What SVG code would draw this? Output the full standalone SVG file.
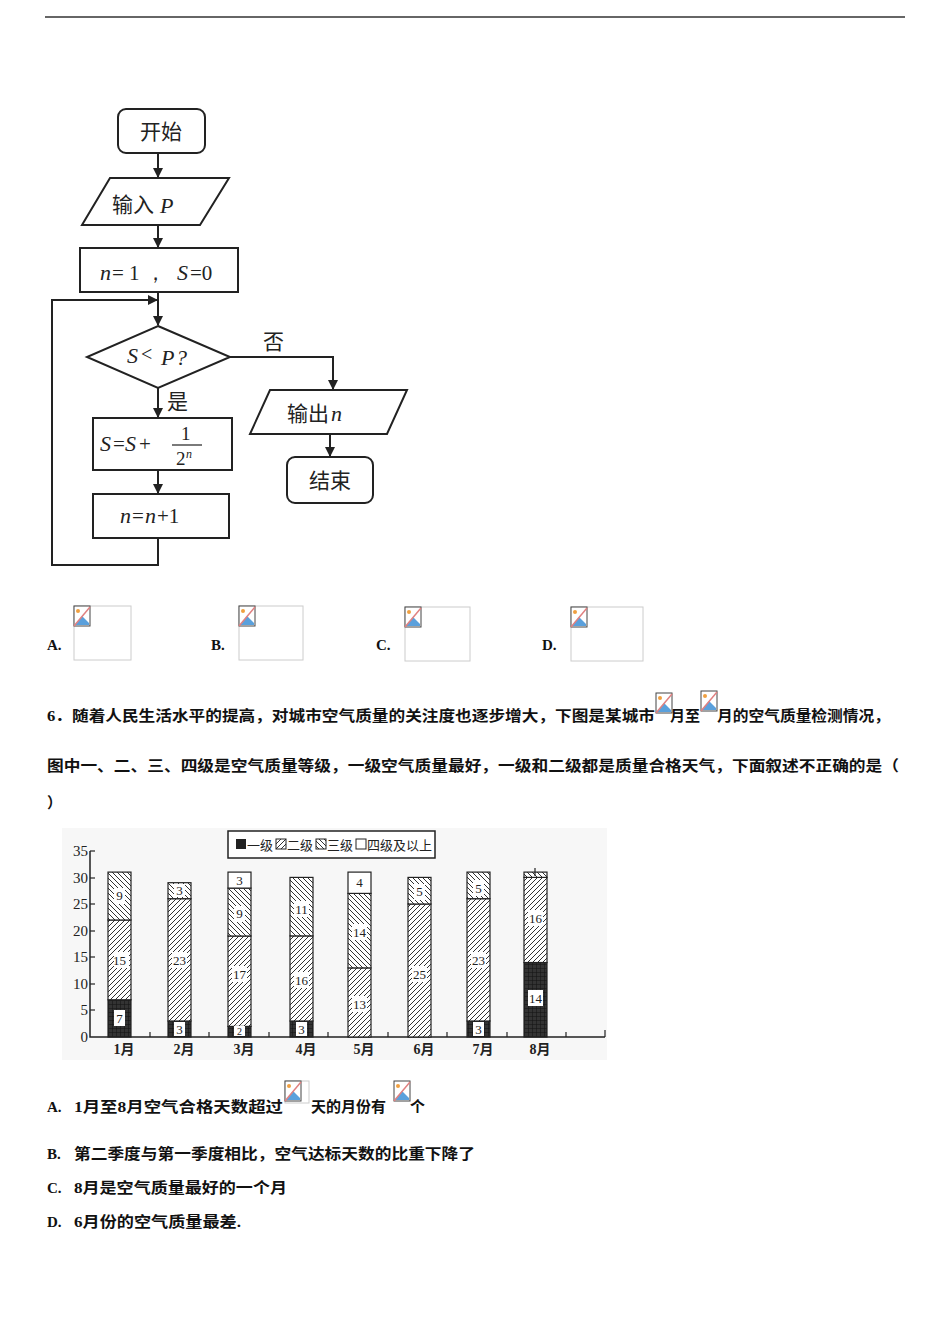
<svg xmlns="http://www.w3.org/2000/svg" width="950" height="1344" viewBox="0 0 950 1344">
<style>
.ln{stroke:#222;stroke-width:2;fill:none}
.bx{stroke:#222;stroke-width:2;fill:#fff}
.fc{font-family:"Noto Sans CJK SC","DejaVu Sans",sans-serif;font-size:21px;fill:#222}
.mt{font-family:"Liberation Serif",serif;font-style:italic;font-size:22px;fill:#222}
.q{font-family:"Liberation Serif","Noto Sans CJK SC",serif;font-weight:bold;font-size:15px;fill:#111}
.ax{font-family:"Liberation Serif",serif;font-size:15px;fill:#222}
.lb{font-family:"Liberation Serif",serif;font-size:13px;fill:#222;text-anchor:middle}
.mo{font-family:"Liberation Serif","Noto Sans CJK SC",serif;font-weight:bold;font-size:14px;fill:#222;text-anchor:middle}
.lg{font-family:"Noto Sans CJK SC",sans-serif;font-size:13px;fill:#222}
.ph{fill:#fff;stroke:#ccc;stroke-width:1}
</style>
<defs>
<marker id="ar" markerWidth="10" markerHeight="10" refX="9" refY="5" orient="auto" markerUnits="userSpaceOnUse"><path d="M0,0 L10,5 L0,10 z" fill="#222"/></marker>
<pattern id="h2" width="5" height="5" patternUnits="userSpaceOnUse"><rect width="5" height="5" fill="#fff"/><path d="M-1,6 L6,-1 M-1,1 L1,-1 M4,6 L6,4" stroke="#333" stroke-width="1"/></pattern>
<pattern id="h3" width="5" height="5" patternUnits="userSpaceOnUse"><rect width="5" height="5" fill="#fff"/><path d="M-1,-1 L6,6 M4,-1 L6,1 M-1,4 L1,6" stroke="#333" stroke-width="1"/></pattern>
<pattern id="h1" width="4" height="4" patternUnits="userSpaceOnUse"><rect width="4" height="4" fill="#333"/><path d="M0,0 H4 M0,0 V4" stroke="#111" stroke-width="1"/></pattern>
<g id="icon"><rect x="0" y="0" width="16" height="20" fill="#fff" stroke="#444" stroke-width="1"/><circle cx="4" cy="5" r="2" fill="#f0a040"/><path d="M1,19 L8,10 L15,17 V19 Z" fill="#5aa0dc"/><path d="M0,20 L16,1" stroke="#e08080" stroke-width="1.5"/></g>
</defs>
<rect width="950" height="1344" fill="#fff"/>
<line x1="45" y1="17" x2="905" y2="17" stroke="#333" stroke-width="1.5"/>

<g id="connectors">
<line class="ln" x1="158" y1="153" x2="158" y2="177" marker-end="url(#ar)"/>
<line class="ln" x1="158" y1="225" x2="158" y2="247" marker-end="url(#ar)"/>
<line class="ln" x1="158" y1="292" x2="158" y2="325" marker-end="url(#ar)"/>
<line class="ln" x1="158" y1="388" x2="158" y2="417" marker-end="url(#ar)"/>
<line class="ln" x1="158" y1="470" x2="158" y2="493" marker-end="url(#ar)"/>
<path class="ln" d="M158,538 V565 H52 V300 H157" marker-end="url(#ar)"/>
<path class="ln" d="M230,357 H333 V389" marker-end="url(#ar)"/>
<line class="ln" x1="330" y1="434" x2="330" y2="456" marker-end="url(#ar)"/>
<text class="fc" x="263" y="349">否</text>
<text class="fc" x="167" y="409">是</text>
</g>
<g id="start"><rect class="bx" x="118" y="109" width="87" height="44" rx="8"/><text class="fc" x="161" y="139" text-anchor="middle">开始</text></g>
<g id="input"><path class="bx" d="M110,178 H229 L200,225 H82 Z"/><text class="fc" x="112" y="212">输入</text><text class="mt" x="160" y="213">P</text></g>
<g id="init"><rect class="bx" x="80" y="248" width="158" height="44"/><text class="mt" x="100" y="280">n</text><text class="ax" x="112" y="280" style="font-size:21px">= 1 ，</text><text class="mt" x="177" y="280">S</text><text class="ax" x="190" y="280" style="font-size:21px">=0</text></g>
<g id="cond"><path class="bx" d="M158,326 L230,357 L158,388 L87,357 Z"/><text class="mt" x="127" y="363">S</text><text class="ax" x="141" y="361" style="font-size:20px">&lt;</text><text class="mt" x="161" y="365">P</text><text class="mt" x="176" y="365">?</text></g>
<g id="sum"><rect class="bx" x="93" y="418" width="139" height="52"/><text class="mt" x="100" y="451">S</text><text class="ax" x="113" y="451" style="font-size:21px">=</text><text class="mt" x="125" y="451">S</text><text class="ax" x="139" y="451" style="font-size:21px">+</text><text class="ax" x="181" y="440" style="font-size:19px">1</text><line x1="172" y1="445" x2="202" y2="445" stroke="#222" stroke-width="1.2"/><text class="ax" x="176" y="465" style="font-size:19px">2</text><text class="mt" x="186" y="458" style="font-size:12px">n</text></g>
<g id="inc"><rect class="bx" x="93" y="494" width="136" height="44"/><text class="mt" x="120" y="523">n</text><text class="ax" x="132" y="523" style="font-size:21px">=</text><text class="mt" x="145" y="523">n</text><text class="ax" x="157" y="523" style="font-size:21px">+1</text></g>
<g id="output"><path class="bx" d="M270,390 H407 L387,434 H250 Z"/><text class="fc" x="287" y="421">输出</text><text class="mt" x="331" y="421">n</text></g>
<g id="end"><rect class="bx" x="287" y="457" width="86" height="46" rx="8"/><text class="fc" x="330" y="488" text-anchor="middle">结束</text></g>

<g id="options1">
<text class="q" x="47" y="650">A.</text><rect class="ph" x="74" y="606" width="57" height="54"/><use href="#icon" x="74" y="606"/>
<text class="q" x="211" y="650">B.</text><rect class="ph" x="239" y="606" width="64" height="54"/><use href="#icon" x="239" y="606"/>
<text class="q" x="376" y="650">C.</text><rect class="ph" x="405" y="607" width="65" height="54"/><use href="#icon" x="405" y="607"/>
<text class="q" x="542" y="650">D.</text><rect class="ph" x="571" y="607" width="72" height="54"/><use href="#icon" x="571" y="607"/>
</g>

<g id="question">
<text class="q" x="47" y="721" textLength="608" lengthAdjust="spacingAndGlyphs">6．随着人民生活水平的提高，对城市空气质量的关注度也逐步增大，下图是某城市</text>
<use href="#icon" x="656" y="693"/>
<text class="q" x="670" y="721">月至</text>
<use href="#icon" x="701" y="691"/>
<text class="q" x="717" y="721" textLength="173" lengthAdjust="spacingAndGlyphs">月的空气质量检测情况，</text>
<text class="q" x="47" y="771" textLength="852" lengthAdjust="spacingAndGlyphs">图中一、二、三、四级是空气质量等级，一级空气质量最好，一级和二级都是质量合格天气，下面叙述不正确的是（</text>
<text class="q" x="47" y="808">）</text>
</g>

<g id="chart">
<rect x="62" y="828" width="545" height="232" fill="#f7f7f7"/>
<rect x="228" y="831" width="207" height="27" fill="#fff" stroke="#222" stroke-width="1.5"/>
<rect x="236" y="839" width="10" height="10" fill="#222"/>
<rect x="276" y="839" width="10" height="10" fill="url(#h2)" stroke="#222"/>
<rect x="316" y="839" width="10" height="10" fill="url(#h3)" stroke="#222"/>
<rect x="356" y="839" width="10" height="10" fill="#fff" stroke="#222"/>
<text class="lg" x="247" y="850">一级</text>
<text class="lg" x="287" y="850">二级</text>
<text class="lg" x="327" y="850">三级</text>
<text class="lg" x="367" y="850">四级及以上</text>
<path d="M90,851 V1037 H605" stroke="#222" stroke-width="1.5" fill="none"/>
<g stroke="#222" stroke-width="1.2">
<line x1="90" y1="851" x2="95" y2="851"/><line x1="90" y1="878" x2="95" y2="878"/><line x1="90" y1="904" x2="95" y2="904"/><line x1="90" y1="931" x2="95" y2="931"/><line x1="90" y1="957" x2="95" y2="957"/><line x1="90" y1="984" x2="95" y2="984"/><line x1="90" y1="1010" x2="95" y2="1010"/>
<line x1="150" y1="1037" x2="150" y2="1032"/><line x1="209" y1="1037" x2="209" y2="1032"/><line x1="269" y1="1037" x2="269" y2="1032"/><line x1="328" y1="1037" x2="328" y2="1032"/><line x1="388" y1="1037" x2="388" y2="1032"/><line x1="447" y1="1037" x2="447" y2="1032"/><line x1="507" y1="1037" x2="507" y2="1032"/><line x1="566" y1="1037" x2="566" y2="1032"/><line x1="605" y1="1037" x2="605" y2="1030"/>
</g>
<g class="ax" text-anchor="end">
<text x="88" y="856">35</text><text x="88" y="883">30</text><text x="88" y="909">25</text><text x="88" y="936">20</text><text x="88" y="962">15</text><text x="88" y="989">10</text><text x="88" y="1015">5</text><text x="88" y="1042">0</text>
</g>
<g stroke="#222" stroke-width="1.2">
<rect x="108" y="999.8" width="23" height="37.2" fill="url(#h1)"/><rect x="108" y="920" width="23" height="79.8" fill="url(#h2)"/><rect x="108" y="872.1" width="23" height="47.9" fill="url(#h3)"/>
<rect x="168" y="1021" width="23" height="16" fill="url(#h1)"/><rect x="168" y="898.7" width="23" height="122.3" fill="url(#h2)"/><rect x="168" y="882.7" width="23" height="16" fill="url(#h3)"/>
<rect x="228" y="1026.4" width="23" height="10.6" fill="url(#h1)"/><rect x="228" y="936" width="23" height="90.4" fill="url(#h2)"/><rect x="228" y="888.1" width="23" height="47.9" fill="url(#h3)"/><rect x="228" y="872.1" width="23" height="16" fill="#fff"/>
<rect x="290" y="1021" width="23" height="16" fill="url(#h1)"/><rect x="290" y="935.9" width="23" height="85.1" fill="url(#h2)"/><rect x="290" y="877.4" width="23" height="58.5" fill="url(#h3)"/>
<rect x="348" y="967.9" width="23" height="69.1" fill="url(#h2)"/><rect x="348" y="893.4" width="23" height="74.5" fill="url(#h3)"/><rect x="348" y="872.1" width="23" height="21.3" fill="#fff"/>
<rect x="408" y="904" width="23" height="133" fill="url(#h2)"/><rect x="408" y="877.4" width="23" height="26.6" fill="url(#h3)"/>
<rect x="467" y="1021" width="23" height="16" fill="url(#h1)"/><rect x="467" y="898.7" width="23" height="122.3" fill="url(#h2)"/><rect x="467" y="872.1" width="23" height="26.6" fill="url(#h3)"/>
<rect x="524" y="962.5" width="23" height="74.5" fill="url(#h1)"/><rect x="524" y="877.4" width="23" height="85.1" fill="url(#h2)"/><rect x="524" y="872.1" width="23" height="5.3" fill="url(#h3)"/>
<line x1="535" y1="868" x2="535" y2="876"/>
</g>
<g fill="#fff">
<rect x="114" y="1010" width="11" height="16"/><rect x="114" y="952" width="15" height="16"/><rect x="114" y="888" width="11" height="16"/>
<rect x="174" y="1022" width="11" height="14"/><rect x="172" y="952" width="15" height="16"/><rect x="174" y="884" width="11" height="13"/>
<rect x="234" y="1026" width="11" height="10"/><rect x="232" y="966" width="15" height="16"/><rect x="234" y="906" width="11" height="16"/>
<rect x="296" y="1022" width="11" height="14"/><rect x="294" y="972" width="15" height="16"/><rect x="294" y="901" width="15" height="16"/>
<rect x="352" y="996" width="15" height="16"/><rect x="352" y="924" width="15" height="16"/>
<rect x="412" y="966" width="15" height="16"/><rect x="414" y="884" width="11" height="16"/>
<rect x="473" y="1022" width="11" height="14"/><rect x="471" y="952" width="15" height="16"/><rect x="473" y="880" width="11" height="16"/>
<rect x="528" y="990" width="15" height="16"/><rect x="528" y="910" width="15" height="16"/>
</g>
<g class="lb">
<text x="119.5" y="1023">7</text><text x="119.5" y="965">15</text><text x="119.5" y="900">9</text>
<text x="179.5" y="1034">3</text><text x="179.5" y="965">23</text><text x="179.5" y="895">3</text>
<text x="239.5" y="1035" style="font-size:10px">2</text><text x="239.5" y="979">17</text><text x="239.5" y="918">9</text><text x="239.5" y="885">3</text>
<text x="301.5" y="1034">3</text><text x="301.5" y="985">16</text><text x="301.5" y="914">11</text>
<text x="359.5" y="1009">13</text><text x="359.5" y="937">14</text><text x="359.5" y="887">4</text>
<text x="419.5" y="979">25</text><text x="419.5" y="896">5</text>
<text x="478.5" y="1034">3</text><text x="478.5" y="965">23</text><text x="478.5" y="893">5</text>
<text x="535.5" y="1003">14</text><text x="535.5" y="923">16</text>
</g>
<g class="mo">
<text x="124" y="1054">1月</text><text x="184" y="1054">2月</text><text x="244" y="1054">3月</text><text x="306" y="1054">4月</text><text x="364" y="1054">5月</text><text x="424" y="1054">6月</text><text x="483" y="1054">7月</text><text x="540" y="1054">8月</text>
</g>
</g>

<g id="answers">
<text class="q" x="47" y="1112">A.</text>
<text class="q" x="74" y="1112" textLength="209" lengthAdjust="spacingAndGlyphs">1月至8月空气合格天数超过</text>
<rect class="ph" x="285" y="1081" width="24" height="22"/><use href="#icon" x="285" y="1081"/>
<text class="q" x="311" y="1112">天的月份有</text>
<use href="#icon" x="394" y="1081"/>
<text class="q" x="410" y="1112">个</text>
<text class="q" x="47" y="1159">B.</text><text class="q" x="74" y="1159" textLength="401" lengthAdjust="spacingAndGlyphs">第二季度与第一季度相比，空气达标天数的比重下降了</text>
<text class="q" x="47" y="1193">C.</text><text class="q" x="74" y="1193" textLength="213" lengthAdjust="spacingAndGlyphs">8月是空气质量最好的一个月</text>
<text class="q" x="47" y="1227">D.</text><text class="q" x="74" y="1227" textLength="167" lengthAdjust="spacingAndGlyphs">6月份的空气质量最差.</text>
</g>
</svg>
